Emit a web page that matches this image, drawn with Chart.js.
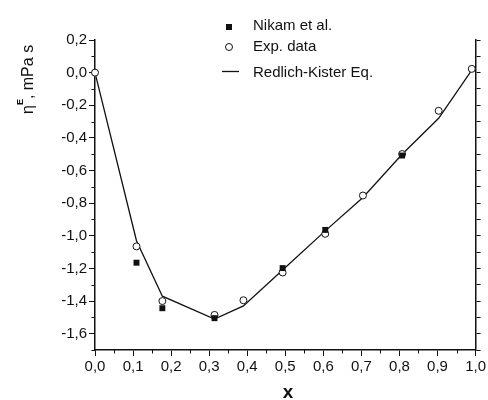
<!DOCTYPE html>
<html>
<head>
<meta charset="utf-8">
<title>Excess viscosity</title>
<script src="https://cdn.jsdelivr.net/npm/chart.js@4.4.1/dist/chart.umd.min.js"></script>
<style>
  html, body { margin: 0; padding: 0; background: #fff; }
  #wrap { width: 488px; height: 400px; }
</style>
</head>
<body>
<div id="wrap"><canvas id="chart" width="488" height="400"></canvas></div>
<script>
// ── Data ───────────────────────────────────────────────────────────
const X_EXP = [0.0, 0.109, 0.177, 0.314, 0.39, 0.493, 0.605, 0.704, 0.807, 0.903, 0.99];
const Y_EXP = [0.0, -1.065, -1.40, -1.485, -1.395, -1.225, -0.988, -0.753, -0.499, -0.234, 0.023];

const X_NIKAM = [0.109, 0.177, 0.314, 0.493, 0.605, 0.807];
const Y_NIKAM = [-1.165, -1.444, -1.505, -1.198, -0.964, -0.508];

const X_RK = [0.0, 0.109, 0.177, 0.314, 0.39, 0.493, 0.605, 0.704, 0.807, 0.903, 0.99];
const Y_RK = [0.0, -1.03, -1.37, -1.51, -1.43, -1.21, -0.97, -0.765, -0.50, -0.28, 0.015];

const LABELS = ['Nikam et al.', 'Exp. data', 'Redlich-Kister Eq.'];

// ── Ticks ──────────────────────────────────────────────────────────
const X_TICKS = [0.0, 0.1, 0.2, 0.3, 0.4, 0.5, 0.6, 0.7, 0.8, 0.9, 1.0];
const X_MINOR = [0.05, 0.15, 0.25, 0.35, 0.45, 0.55, 0.65, 0.75, 0.85, 0.95];
const Y_TICKS = [-1.6, -1.4, -1.2, -1.0, -0.8, -0.6, -0.4, -0.2, 0.0, 0.2];
const Y_MINOR = [-1.7, -1.5, -1.3, -1.1, -0.9, -0.7, -0.5, -0.3, -0.1, 0.1];
const Y2_TICKS = [-1.7, -1.6, -1.5, -1.4, -1.3, -1.2, -1.1, -1.0, -0.9, -0.8, -0.7,
  -0.6, -0.5, -0.4, -0.3, -0.2, -0.1, 0.0, 0.1, 0.2];

const INK = '#111';
const FONT = "'Liberation Sans', Arial, Helvetica, sans-serif";

function toPoints(xs, ys) {
  return xs.map(function (x, i) { return { x: x, y: ys[i] }; });
}

function commaLabel(v) {
  return v.toFixed(1).replace('.', ',');
}

function setTicks(list) {
  return function (scale) {
    scale.ticks = list.map(function (v) { return { value: v }; });
  };
}

// ── Minor ticks, titles, legend ────────────────────────────────────
const decorations = {
  id: 'decorations',
  afterDraw(chart) {
    const ctx = chart.ctx;
    const a = chart.chartArea;
    const xs = chart.scales.x;
    const ys = chart.scales.y;

    ctx.save();
    ctx.strokeStyle = INK;
    ctx.lineWidth = 1;
    ctx.beginPath();
    X_MINOR.forEach(function (v) {
      const px = Math.round(xs.getPixelForValue(v)) + 0.5;
      ctx.moveTo(px, a.bottom);
      ctx.lineTo(px, a.bottom + 3.5);
    });
    Y_MINOR.forEach(function (v) {
      const py = Math.round(ys.getPixelForValue(v)) + 0.5;
      ctx.moveTo(a.left - 3.5, py);
      ctx.lineTo(a.left, py);
    });
    ctx.stroke();

    // x title
    ctx.fillStyle = INK;
    ctx.font = 'bold 19px ' + FONT;
    ctx.textAlign = 'center';
    ctx.textBaseline = 'alphabetic';
    ctx.fillText('x', 288, 398);

    // y title: eta^E, mPa s (rotated)
    ctx.save();
    ctx.translate(33, 114);
    ctx.rotate(-Math.PI / 2);
    ctx.textAlign = 'left';
    ctx.font = '16px ' + FONT;
    ctx.fillText('\u03B7', 0, 0);
    let w = ctx.measureText('\u03B7').width;
    ctx.font = 'bold 9px ' + FONT;
    ctx.fillText('E', w, -10);
    w += ctx.measureText('E').width;
    ctx.font = '16px ' + FONT;
    ctx.fillText(', mPa s', w, 0);
    ctx.restore();

    // legend
    const ds = chart.data.datasets;
    ctx.fillStyle = INK;
    ctx.fillRect(226, 24, 6, 6);
    ctx.beginPath();
    ctx.arc(229, 47, 3.5, 0, Math.PI * 2);
    ctx.fillStyle = '#fff';
    ctx.fill();
    ctx.lineWidth = 1;
    ctx.stroke();
    ctx.beginPath();
    ctx.lineWidth = 1.3;
    ctx.moveTo(222, 71.5);
    ctx.lineTo(239, 71.5);
    ctx.stroke();

    ctx.fillStyle = INK;
    ctx.font = '15px ' + FONT;
    ctx.textAlign = 'left';
    ctx.textBaseline = 'middle';
    ctx.fillText(ds[0].label, 253, 26);
    ctx.fillText(ds[1].label, 253, 47);
    ctx.fillText(ds[2].label, 253, 73);
    ctx.restore();
  }
};

// ── Chart ──────────────────────────────────────────────────────────
Chart.defaults.font.family = FONT;
Chart.defaults.font.size = 15;
Chart.defaults.color = INK;

new Chart(document.getElementById('chart'), {
  type: 'scatter',
  data: {
    datasets: [
      {
        label: LABELS[0],
        data: toPoints(X_NIKAM, Y_NIKAM),
        pointStyle: 'rect',
        pointRadius: 4.2,
        backgroundColor: INK,
        borderColor: INK,
        borderWidth: 0,
        clip: false,
      },
      {
        label: LABELS[1],
        data: toPoints(X_EXP, Y_EXP),
        pointStyle: 'circle',
        pointRadius: 3.5,
        backgroundColor: '#fff',
        borderColor: INK,
        borderWidth: 1,
        clip: false,
      },
      {
        label: LABELS[2],
        data: toPoints(X_RK, Y_RK),
        showLine: true,
        pointRadius: 0,
        borderColor: INK,
        borderWidth: 1.3,
        tension: 0,
        clip: false,
      },
    ],
  },
  options: {
    responsive: false,
    animation: false,
    layout: { padding: { top: 40, left: 0, right: 0, bottom: 0 } },
    plugins: {
      legend: { display: false },
      tooltip: { enabled: false },
    },
    scales: {
      x: {
        type: 'linear',
        position: 'bottom',
        min: 0,
        max: 1,
        afterBuildTicks: setTicks(X_TICKS),
        afterFit: function (s) { s.height = 50; },
        ticks: { callback: commaLabel, padding: 2, maxRotation: 0, autoSkip: false },
        grid: { drawOnChartArea: false, tickLength: 6, color: INK, lineWidth: 1 },
        border: { display: true, color: INK, width: 1.5 },
      },
      y: {
        type: 'linear',
        position: 'left',
        min: -1.7,
        max: 0.2,
        afterBuildTicks: setTicks(Y_TICKS),
        afterFit: function (s) { s.width = 95; },
        ticks: { callback: commaLabel, padding: 2, autoSkip: false },
        grid: { drawOnChartArea: false, tickLength: 6, color: INK, lineWidth: 1 },
        border: { display: true, color: INK, width: 1.5 },
      },
      y2: {
        type: 'linear',
        position: 'right',
        min: -1.7,
        max: 0.2,
        afterBuildTicks: setTicks(Y2_TICKS),
        afterFit: function (s) { s.width = 10; },
        ticks: { display: false },
        grid: { drawOnChartArea: false, tickLength: 5, color: INK, lineWidth: 1 },
        border: { display: true, color: INK, width: 1.5 },
      },
    },
  },
  plugins: [decorations],
});
</script>
</body>
</html>
